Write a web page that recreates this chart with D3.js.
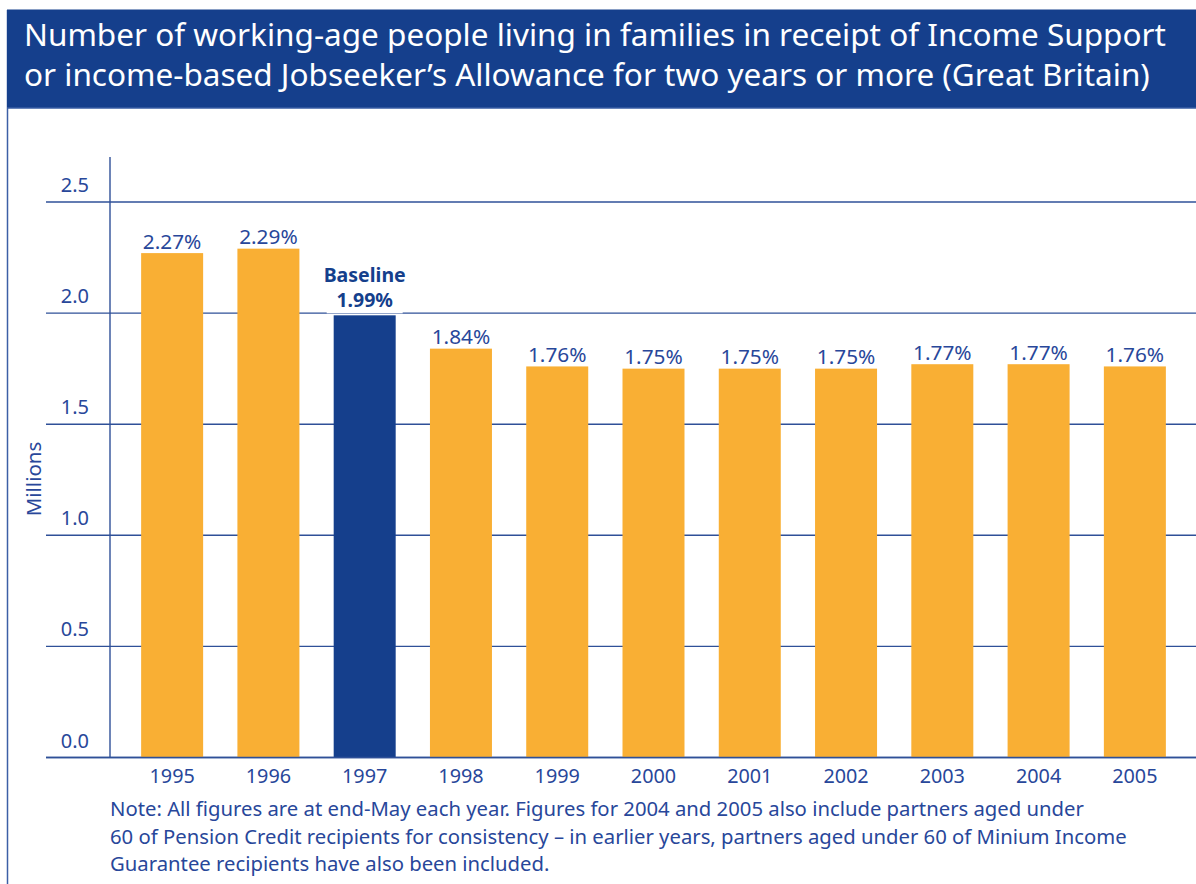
<!DOCTYPE html>
<html>
<head>
<meta charset="utf-8">
<script src="https://cdn.jsdelivr.net/npm/d3@7"></script>
<style>
  html, body { margin: 0; padding: 0; background: #ffffff; }
  svg { display: block; font-family: "Noto Sans", "Open Sans", sans-serif; }
</style>
</head>
<body>
<svg id="chart" width="1196" height="884"></svg>
<script>
// Data
const years = ["1995", "1996", "1997", "1998", "1999", "2000", "2001", "2002", "2003", "2004", "2005"];
const values = [2.27, 2.29, 1.99, 1.84, 1.76, 1.75, 1.75, 1.75, 1.77, 1.77, 1.76];
const baselineYear = "1997";
const yTicks = [0, 0.5, 1.0, 1.5, 2.0, 2.5];
const titleLines = [
  "Number of working-age people living in families in receipt of Income Support",
  "or income-based Jobseeker\u2019s Allowance for two years or more (Great Britain)"
];
const noteLines = [
  "Note: All figures are at end-May each year. Figures for 2004 and 2005 also include partners aged under",
  "60 of Pension Credit recipients for consistency \u2013 in earlier years, partners aged under 60 of Minium Income",
  "Guarantee recipients have also been included."
];

const NAVY = "#153f8c";
const TEXT = "#28479a";
const ORANGE = "#f9af34";
const GRID = "#2f5098";

const svg = d3.select("#chart");

// Frame: left rule and title band
svg.append("line")
  .attr("x1", 7.5).attr("x2", 7.5).attr("y1", 10).attr("y2", 884)
  .attr("stroke", "#3c5fa6").attr("stroke-width", 1.5);
svg.append("rect")
  .attr("x", 7).attr("y", 9.5).attr("width", 1189).attr("height", 99)
  .attr("fill", NAVY);
svg.append("line")
  .attr("x1", 7).attr("x2", 1196).attr("y1", 108).attr("y2", 108)
  .attr("stroke", "#4a6cb0").attr("stroke-width", 1);

svg.append("g").selectAll("text")
  .data(titleLines).join("text")
  .attr("x", 24).attr("y", (d, i) => 46 + i * 40)
  .attr("fill", "#ffffff").attr("font-size", 31.5)
  .text(d => d);

// Scales
const x = d3.scaleBand().domain(years).range([124, 1183]).paddingInner(0.356).paddingOuter(0.178);
const y = d3.scaleLinear().domain([0, 2.5]).range([757.5, 202]);

// Gridlines with tick labels sitting above each line
const grid = svg.append("g");
grid.selectAll("line")
  .data(yTicks).join("line")
  .attr("x1", 46).attr("x2", 1196)
  .attr("y1", d => y(d)).attr("y2", d => y(d))
  .attr("stroke", GRID).attr("stroke-width", 1.4);
grid.selectAll("text")
  .data(yTicks).join("text")
  .attr("x", 89).attr("y", d => y(d) - 10)
  .attr("text-anchor", "end").attr("fill", TEXT).attr("font-size", 20)
  .text(d => d3.format(".1f")(d));

// Vertical axis rule
svg.append("line")
  .attr("x1", 110).attr("x2", 110).attr("y1", 157).attr("y2", y(0))
  .attr("stroke", GRID).attr("stroke-width", 1.4);

svg.append("text")
  .attr("transform", "translate(41,479) rotate(-90)")
  .attr("text-anchor", "middle").attr("fill", TEXT).attr("font-size", 20.5)
  .text("Millions");

// Bars
svg.append("g").selectAll("rect")
  .data(years).join("rect")
  .attr("x", d => x(d))
  .attr("y", (d, i) => y(values[i]))
  .attr("width", x.bandwidth())
  .attr("height", (d, i) => y(0) - y(values[i]))
  .attr("fill", d => d === baselineYear ? NAVY : ORANGE);

// Redraw the axis baseline over the bars
svg.append("line")
  .attr("x1", 46).attr("x2", 1196).attr("y1", y(0)).attr("y2", y(0))
  .attr("stroke", GRID).attr("stroke-width", 1.4);

// Value labels
const labels = svg.append("g");
years.forEach((yr, i) => {
  const cx = x(yr) + x.bandwidth() / 2;
  const top = y(values[i]);
  if (yr === baselineYear) {
    labels.append("rect")
      .attr("x", cx - 38).attr("y", top - 50).attr("width", 76).attr("height", 48)
      .attr("fill", "#ffffff");
    labels.append("text")
      .attr("x", cx).attr("y", top - 33)
      .attr("text-anchor", "middle").attr("fill", NAVY)
      .attr("font-size", 19.5).attr("font-weight", "bold")
      .text("Baseline");
    labels.append("text")
      .attr("x", cx).attr("y", top - 8)
      .attr("text-anchor", "middle").attr("fill", NAVY)
      .attr("font-size", 19.5).attr("font-weight", "bold")
      .text(values[i].toFixed(2) + "%");
  } else {
    labels.append("text")
      .attr("x", cx).attr("y", top - 4.5)
      .attr("text-anchor", "middle").attr("fill", TEXT)
      .attr("font-size", 20.8)
      .text(values[i].toFixed(2) + "%");
  }
});

// Year labels
svg.append("g").selectAll("text")
  .data(years).join("text")
  .attr("x", d => x(d) + x.bandwidth() / 2)
  .attr("y", 783)
  .attr("text-anchor", "middle").attr("fill", TEXT).attr("font-size", 19.8)
  .text(d => d);

// Footnote
svg.append("g").selectAll("text")
  .data(noteLines).join("text")
  .attr("x", 110).attr("y", (d, i) => 816 + i * 27.5)
  .attr("fill", TEXT).attr("font-size", 20.3)
  .text(d => d);
</script>
</body>
</html>
